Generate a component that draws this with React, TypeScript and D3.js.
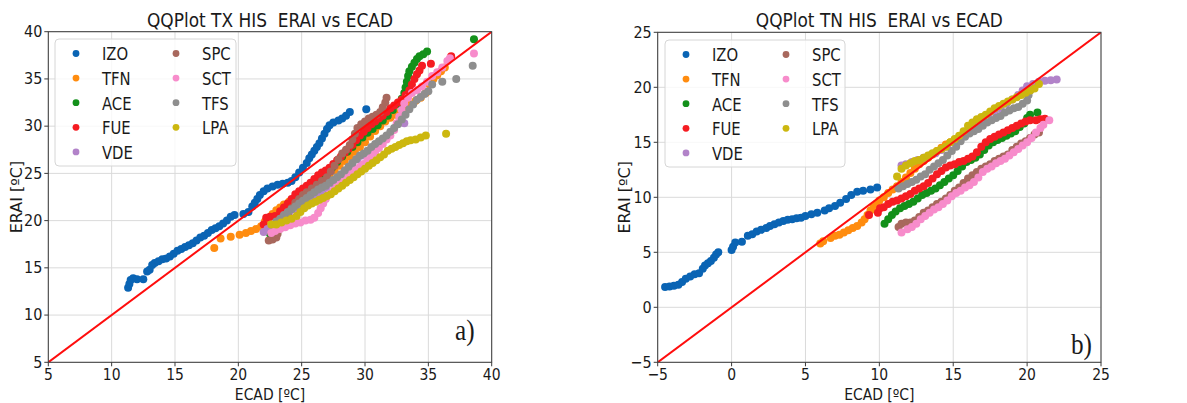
import * as d3 from 'd3'

type Pt = [number, number]

const STATIONS = ['IZO', 'TFN', 'ACE', 'FUE', 'VDE', 'SPC', 'SCT', 'TFS', 'LPA']
const COLORS = ['#0a64b4', '#ff8c0f', '#13901a', '#f51c22', '#b283c9', '#a8685d', '#f78ccb', '#8e8e8e', '#ccb70f']

// ---- TX panel (a): ECAD quantile vs ERAI quantile, ºC
const txIZO: Pt[] = [[11.3,12.9],[11.4,13.3],[11.5,13.7],[11.7,13.9],[12.0,13.8],[12.5,13.8],[12.8,14.6],[13.0,14.8],[13.2,15.3],[13.4,15.5],[13.7,15.7],[14.0,15.9],[14.3,16.0],[14.6,16.2],[14.9,16.5],[15.2,16.8],[15.5,17.0],[15.8,17.2],[16.1,17.4],[16.4,17.6],[16.7,17.9],[17.0,18.2],[17.3,18.4],[17.6,18.7],[17.9,19.0],[18.2,19.2],[18.5,19.4],[18.8,19.7],[19.1,20.0],[19.4,20.4],[19.7,20.6],[20.4,20.7],[20.8,20.9],[21.1,21.5],[21.3,21.9],[21.5,22.3],[21.7,22.7],[22.0,23.1],[22.3,23.4],[22.7,23.6],[23.1,23.8],[23.5,23.9],[23.9,24.0],[24.2,24.2],[24.5,24.6],[24.8,25.1],[25.1,25.6],[25.4,26.1],[25.6,26.6],[25.8,27.0],[26.0,27.4],[26.2,27.8],[26.4,28.2],[26.6,28.7],[26.8,29.2],[27.0,29.7],[27.2,30.1],[27.5,30.4],[27.9,30.6],[28.2,30.8],[28.5,31.1],[28.8,31.5],[30.1,31.8]]
const txTFN: Pt[] = [[18.1,17.1],[18.6,18.1],[19.4,18.3],[20.1,18.5],[20.6,18.7],[21.0,18.9],[21.4,19.1],[21.8,19.4],[22.1,19.9],[22.4,20.3],[22.7,20.7],[23.0,21.1],[23.3,21.4],[23.6,21.7],[24.0,22.0],[24.4,22.3],[24.8,22.7],[25.2,23.0],[25.6,23.3],[26.0,23.6],[26.4,24.0],[26.8,24.4],[27.2,24.8],[27.6,25.3],[28.0,25.8],[28.4,26.3],[28.8,26.8],[29.2,27.3],[29.6,27.8],[30.0,28.3],[30.4,28.9],[30.8,29.5],[31.2,30.0],[31.6,30.5],[32.0,30.9],[32.4,31.2],[32.8,31.5],[33.2,31.9],[33.6,32.3],[34.0,32.7],[34.4,33.0],[34.8,33.5],[35.1,34.4],[35.4,35.0],[35.7,35.4],[36.0,35.8],[36.3,36.2]]
const txACE: Pt[] = [[22.5,18.6],[22.7,19.0],[23.0,19.6],[23.4,20.2],[23.8,20.7],[24.2,21.2],[24.6,21.7],[25.0,22.2],[25.4,22.8],[25.8,23.3],[26.2,23.9],[26.6,24.4],[27.0,25.0],[27.4,25.6],[27.8,26.2],[28.2,26.8],[28.6,27.3],[29.0,27.8],[29.4,28.3],[29.8,28.8],[30.2,29.3],[30.6,29.7],[31.0,30.1],[31.4,30.6],[31.8,31.1],[32.2,31.7],[32.6,32.3],[32.9,32.9],[33.1,33.5],[33.2,34.1],[33.3,34.7],[33.4,35.3],[33.5,35.8],[33.7,36.3],[33.9,36.7],[34.1,37.1],[34.3,37.4],[34.6,37.6],[34.9,37.9],[38.6,39.2]]
const txFUE: Pt[] = [[22.0,19.6],[22.2,20.3],[22.5,20.4],[22.9,20.5],[23.3,21.0],[23.6,21.4],[23.9,21.8],[24.2,22.3],[24.5,22.8],[24.8,23.1],[25.1,23.4],[25.4,23.7],[25.7,24.0],[26.0,24.4],[26.3,24.8],[26.6,25.1],[26.9,25.3],[27.2,25.6],[27.5,26.0],[27.8,26.4],[28.1,26.8],[28.4,27.2],[28.7,27.6],[29.0,28.0],[29.3,28.5],[29.6,29.0],[29.9,29.4],[30.2,29.8],[30.5,30.2],[30.8,30.5],[31.1,30.8],[31.4,31.1],[31.7,31.5],[32.0,31.9],[32.3,32.2],[32.6,32.5],[32.9,32.8],[33.2,33.3],[33.5,33.8],[33.7,34.4],[33.9,35.0],[34.1,35.5],[34.3,35.9],[34.5,36.4],[35.2,36.6],[36.8,37.4]]
const txVDE: Pt[] = [[22.0,18.8],[22.3,19.1],[22.6,19.4],[23.0,19.8],[23.5,20.3],[24.0,20.8],[24.5,21.2],[25.0,21.6],[25.5,22.0],[26.0,22.4],[26.5,22.8],[27.0,23.3],[27.5,23.9],[28.0,24.6],[28.5,25.3],[29.0,26.0],[29.4,26.5],[29.8,26.9],[30.2,27.3],[30.6,27.7],[31.0,28.1],[31.3,28.4],[33.1,30.3]]
const txSPC: Pt[] = [[22.4,17.9],[22.7,18.0],[23.0,18.2],[23.1,18.6],[23.3,19.2],[23.6,19.9],[23.9,20.6],[24.2,21.3],[24.5,21.9],[24.8,22.3],[25.1,22.7],[25.4,23.0],[25.8,23.4],[26.2,23.8],[26.6,24.2],[27.0,24.6],[27.3,25.2],[27.6,25.8],[27.9,26.5],[28.2,27.1],[28.5,27.5],[28.8,28.0],[29.0,28.6],[29.2,29.2],[29.4,29.8],[29.7,30.2],[30.0,30.5],[30.3,30.8],[30.6,31.0],[30.9,31.2],[31.2,31.5],[31.4,32.0],[31.6,32.5],[31.7,33.0]]
const txSCT: Pt[] = [[22.6,18.7],[22.9,18.9],[23.3,19.1],[23.7,19.3],[24.1,19.5],[24.5,19.7],[24.9,19.8],[25.3,20.0],[25.7,20.1],[26.0,20.3],[26.3,20.8],[26.5,21.3],[26.7,21.8],[26.9,22.3],[27.2,22.8],[27.5,23.2],[27.8,23.6],[28.1,24.0],[28.4,24.4],[28.7,24.8],[29.0,25.1],[29.3,25.4],[29.6,25.7],[29.9,26.0],[30.2,26.4],[30.5,26.8],[30.8,27.2],[31.1,27.7],[31.4,28.1],[31.7,28.6],[32.0,29.0],[32.3,29.6],[32.5,30.3],[32.7,31.0],[32.9,31.7],[33.1,32.4],[33.4,33.0],[33.7,33.5],[34.1,33.8],[34.5,34.2],[34.9,34.7],[35.3,35.3],[35.7,35.7],[36.1,36.2],[36.5,36.9],[36.7,37.2],[38.6,37.7]]
const txTFS: Pt[] = [[23.0,19.9],[23.3,20.2],[23.6,20.6],[23.9,20.9],[24.2,21.2],[24.5,21.5],[24.8,21.8],[25.1,22.1],[25.4,22.4],[25.7,22.7],[26.0,23.0],[26.3,23.3],[26.6,23.5],[26.9,23.7],[27.2,24.0],[27.5,24.3],[27.8,24.6],[28.1,24.9],[28.4,25.3],[28.7,25.7],[29.0,26.1],[29.3,26.5],[29.6,26.9],[29.9,27.1],[30.2,27.4],[30.5,27.8],[30.8,28.1],[31.1,28.4],[31.4,28.7],[31.7,29.0],[32.0,29.4],[32.3,29.8],[32.6,30.2],[32.9,30.7],[33.2,31.2],[33.5,31.8],[33.8,32.3],[34.1,32.8],[34.4,33.1],[34.7,33.4],[35.0,33.7],[35.3,34.4],[36.1,34.7],[37.2,35.0],[38.5,36.4]]
const txLPA: Pt[] = [[22.6,19.6],[23.0,19.6],[23.4,19.8],[23.8,20.0],[24.2,20.2],[24.6,20.5],[24.9,20.9],[25.2,21.3],[25.5,21.6],[25.8,21.8],[26.1,22.0],[26.4,22.2],[26.7,22.4],[27.0,22.6],[27.3,22.8],[27.6,23.1],[27.9,23.4],[28.2,23.7],[28.5,24.0],[28.8,24.3],[29.1,24.6],[29.4,24.9],[29.7,25.2],[30.0,25.5],[30.3,25.8],[30.6,26.1],[30.9,26.4],[31.2,26.7],[31.5,27.0],[31.8,27.4],[32.1,27.6],[32.4,27.8],[32.7,28.0],[33.0,28.2],[33.3,28.4],[33.6,28.5],[34.0,28.6],[34.4,28.8],[34.8,29.0],[36.4,29.2]]

// ---- TN panel (b)
const tnIZO: Pt[] = [[-4.5,1.85],[-4.2,1.9],[-3.9,1.95],[-3.6,2.05],[-3.35,2.3],[-3.1,2.6],[-2.8,2.8],[-2.5,3.0],[-2.2,3.1],[-1.95,3.5],[-1.8,3.8],[-1.6,4.0],[-1.4,4.2],[-1.2,4.5],[-1.05,4.8],[-0.9,5.0],[0.0,5.2],[0.1,5.5],[0.25,5.9],[0.7,5.95],[1.1,6.5],[1.4,6.65],[1.7,6.9],[2.0,7.05],[2.35,7.2],[2.6,7.4],[2.9,7.55],[3.2,7.7],[3.5,7.85],[3.8,7.95],[4.1,8.0],[4.4,8.1],[4.7,8.15],[5.0,8.3],[5.4,8.45],[5.8,8.6],[6.3,8.8],[6.6,9.0],[7.0,9.2],[7.35,9.5],[7.75,9.85],[8.1,10.2],[8.5,10.5],[8.9,10.6],[9.4,10.7],[9.85,10.9]]
const tnTFN: Pt[] = [[6.0,5.8],[6.2,6.0],[6.7,6.3],[7.0,6.5],[7.3,6.6],[7.6,6.8],[7.9,7.0],[8.2,7.2],[8.5,7.4],[8.8,7.7],[9.0,8.0],[9.2,8.4],[9.4,8.8],[9.6,9.1],[9.8,9.4],[10.0,9.7],[10.3,10.0],[10.6,10.4],[10.9,10.7],[11.2,11.0],[11.5,11.4],[11.8,11.8],[12.1,12.2],[12.4,12.6],[12.7,13.0],[13.0,13.3],[13.3,13.6],[13.6,13.9],[13.9,14.2],[14.2,14.5],[14.5,14.8],[14.8,15.0]]
const tnACE: Pt[] = [[10.35,7.6],[10.6,8.0],[10.85,8.4],[11.1,8.7],[11.4,9.0],[11.7,9.2],[12.0,9.4],[12.3,9.6],[12.6,9.9],[12.9,10.2],[13.2,10.4],[13.5,10.6],[13.8,10.8],[14.1,11.1],[14.4,11.4],[14.7,11.7],[15.0,12.0],[15.3,12.4],[15.6,12.8],[15.9,13.2],[16.2,13.4],[16.5,13.6],[16.8,13.9],[17.1,14.3],[17.4,14.7],[17.7,15.0],[18.0,15.2],[18.3,15.4],[18.6,15.6],[18.9,15.8],[19.2,16.0],[19.5,16.4],[19.8,16.7],[20.0,17.2],[20.2,17.5],[20.7,17.7]]
const tnFUE: Pt[] = [[9.3,8.4],[9.9,8.6],[10.05,9.0],[10.3,9.1],[10.6,9.4],[10.9,9.6],[11.2,9.7],[11.5,9.9],[11.8,10.1],[12.1,10.3],[12.4,10.6],[12.7,10.8],[13.0,11.0],[13.3,11.3],[13.6,11.7],[13.9,12.1],[14.2,12.4],[14.5,12.7],[14.8,12.9],[15.1,13.0],[15.4,13.2],[15.7,13.3],[16.0,13.5],[16.3,13.7],[16.6,14.1],[16.9,14.6],[17.2,15.0],[17.5,15.3],[17.8,15.5],[18.1,15.7],[18.4,15.9],[18.7,16.1],[19.0,16.3],[19.3,16.5],[19.6,16.7],[19.9,16.9],[20.2,17.0],[20.6,17.0],[20.9,17.1],[21.2,17.15]]
const tnVDE: Pt[] = [[11.5,12.9],[11.8,13.0],[12.2,13.2],[12.6,13.4],[13.0,13.6],[13.4,13.8],[13.8,14.0],[14.2,14.3],[14.6,14.6],[15.0,15.0],[15.4,15.4],[15.8,15.9],[16.2,16.3],[16.6,16.7],[17.0,17.1],[17.4,17.5],[17.8,17.8],[18.2,18.1],[18.6,18.5],[19.0,18.9],[19.4,19.3],[19.7,19.7],[20.0,20.1],[20.4,20.3],[20.8,20.5],[21.2,20.6],[21.6,20.65],[22.0,20.7]]
const tnSPC: Pt[] = [[11.3,7.3],[11.5,7.6],[11.8,7.7],[12.1,7.7],[12.4,7.9],[12.7,8.2],[13.0,8.6],[13.3,8.8],[13.6,9.1],[13.9,9.4],[14.2,9.6],[14.5,9.9],[14.8,10.2],[15.1,10.6],[15.4,10.9],[15.7,11.3],[16.0,11.7],[16.3,12.0],[16.6,12.3],[16.9,12.6],[17.2,12.8],[17.5,13.0],[17.8,13.3],[18.1,13.5],[18.4,13.7],[18.7,13.9],[19.0,14.3],[19.3,14.6],[19.6,14.9],[19.9,15.1],[20.2,15.4],[20.5,15.7],[20.8,15.9]]
const tnSCT: Pt[] = [[11.5,6.8],[11.9,7.1],[12.2,7.3],[12.5,7.6],[12.8,8.0],[13.1,8.3],[13.4,8.6],[13.7,8.9],[14.0,9.1],[14.3,9.4],[14.6,9.7],[14.9,10.1],[15.2,10.4],[15.5,10.6],[15.8,10.9],[16.1,11.1],[16.4,11.4],[16.7,11.8],[17.0,12.3],[17.3,12.6],[17.6,12.8],[17.9,13.1],[18.2,13.3],[18.5,13.5],[18.8,13.8],[19.1,14.1],[19.4,14.4],[19.7,14.7],[20.0,15.0],[20.3,15.4],[20.6,15.9],[20.9,16.3],[21.1,16.6],[21.5,17.0]]
const tnTFS: Pt[] = [[11.3,10.8],[11.6,11.0],[11.9,11.2],[12.2,11.4],[12.5,11.6],[12.8,11.9],[13.1,12.1],[13.4,12.5],[13.7,12.8],[14.0,13.1],[14.3,13.4],[14.6,13.8],[14.9,14.2],[15.2,14.6],[15.5,15.1],[15.8,15.5],[16.1,15.8],[16.4,16.0],[16.7,16.2],[17.0,16.5],[17.3,16.8],[17.6,17.0],[17.9,17.2],[18.2,17.4],[18.5,17.7],[18.8,17.9],[19.1,18.1],[19.4,18.2],[19.7,18.5],[20.0,18.8],[20.1,19.3],[20.2,19.7]]
const tnLPA: Pt[] = [[11.2,11.9],[11.5,12.6],[11.8,12.9],[12.1,13.1],[12.4,13.3],[12.7,13.4],[13.0,13.6],[13.3,13.8],[13.6,14.0],[13.9,14.2],[14.2,14.4],[14.5,14.6],[14.8,15.0],[15.1,15.3],[15.4,15.6],[15.7,16.0],[16.0,16.5],[16.3,16.8],[16.6,17.1],[16.9,17.3],[17.2,17.5],[17.5,17.8],[17.8,18.1],[18.1,18.3],[18.4,18.5],[18.7,18.7],[19.0,18.9],[19.3,19.1],[19.6,19.3],[19.9,19.5],[20.2,19.7],[20.5,19.9],[20.8,20.3]]

const TX_SERIES = [txIZO, txTFN, txACE, txFUE, txVDE, txSPC, txSCT, txTFS, txLPA]
const TN_SERIES = [tnIZO, tnTFN, tnACE, tnFUE, tnVDE, tnSPC, tnSCT, tnTFS, tnLPA]
const TX_TICKS = [5, 10, 15, 20, 25, 30, 35, 40]
const TN_TICKS = [-5, 0, 5, 10, 15, 20, 25]

const WIDTH = 1187
const HEIGHT = 403
const SX = 0.87 // the figure is squeezed horizontally, text included
const FONT = 'DejaVu Sans, sans-serif'

type TxtProps = {
  x: number
  y: number
  size: number
  anchor?: 'start' | 'middle' | 'end'
  baseline?: string
  family?: string
  children: React.ReactNode
}

function Txt({ x, y, size, anchor = 'start', baseline, family = FONT, children }: TxtProps) {
  return (
    <text
      transform={`translate(${x},${y}) scale(${SX},1)`}
      fontSize={size}
      fontFamily={family}
      textAnchor={anchor}
      dominantBaseline={baseline}
      fill="#1a1a1a"
      style={{ whiteSpace: 'pre' }}
    >
      {children}
    </text>
  )
}

type PanelProps = {
  id: string
  title: string
  series: Pt[][]
  ticks: number[]
  box: { l: number; r: number; t: number; b: number }
  legend: { x: number; y: number; w: number; h: number }
  tag: string
  tagPos: [number, number]
  yLabelX: number
}

function Panel({ id, title, series, ticks, box, legend, tag, tagPos, yLabelX }: PanelProps) {
  const domain = d3.extent(ticks) as [number, number]
  const x = d3.scaleLinear().domain(domain).range([box.l, box.r])
  const y = d3.scaleLinear().domain(domain).range([box.b, box.t])
  const fmt = d3.format('d')
  const cx = (box.l + box.r) / 2
  const cy = (box.t + box.b) / 2
  const rowH = 24.6

  return (
    <g>
      <defs>
        <clipPath id={`clip-${id}`}>
          <rect x={box.l} y={box.t} width={box.r - box.l} height={box.b - box.t} />
        </clipPath>
      </defs>

      {/* grid */}
      {ticks.map((t) => (
        <g key={`g${t}`} stroke="#dadada" strokeWidth={1}>
          <line x1={x(t)} x2={x(t)} y1={box.t} y2={box.b} />
          <line x1={box.l} x2={box.r} y1={y(t)} y2={y(t)} />
        </g>
      ))}

      {/* scatter */}
      <g clipPath={`url(#clip-${id})`}>
        {series.map((pts, si) =>
          pts.map((p, i) => (
            <circle key={`${si}-${i}`} cx={x(p[0])} cy={y(p[1])} r={4} fill={COLORS[si]} />
          ))
        )}
        <line
          x1={x(domain[0])}
          y1={y(domain[0])}
          x2={x(domain[1])}
          y2={y(domain[1])}
          stroke="#ff0d0d"
          strokeWidth={2}
        />
      </g>

      {/* frame + ticks */}
      <rect
        x={box.l}
        y={box.t}
        width={box.r - box.l}
        height={box.b - box.t}
        fill="none"
        stroke="#3a3a3a"
        strokeWidth={1}
      />
      {ticks.map((t) => (
        <g key={`t${t}`}>
          <line x1={x(t)} x2={x(t)} y1={box.b} y2={box.b + 4} stroke="#3a3a3a" />
          <line x1={box.l - 4} x2={box.l} y1={y(t)} y2={y(t)} stroke="#3a3a3a" />
          <Txt x={x(t)} y={box.b + 17.5} size={16} anchor="middle">
            {fmt(t)}
          </Txt>
          <Txt x={box.l - 6} y={y(t)} size={16.5} anchor="end" baseline="central">
            {fmt(t)}
          </Txt>
        </g>
      ))}

      {/* legend */}
      <rect
        x={legend.x}
        y={legend.y}
        width={legend.w}
        height={legend.h}
        rx={4}
        fill="#fff"
        fillOpacity={0.8}
        stroke="#d6d6d6"
      />
      {STATIONS.map((name, i) => {
        const col = i < 5 ? 0 : 1
        const row = i < 5 ? i : i - 5
        const mx = legend.x + 21 + col * 100
        const my = legend.y + 14.5 + row * rowH
        return (
          <g key={name}>
            <circle cx={mx} cy={my} r={3.4} fill={COLORS[i]} />
            <Txt x={mx + 26} y={my + 1} size={17} baseline="central">
              {name}
            </Txt>
          </g>
        )
      })}

      {/* labels */}
      <Txt x={cx} y={27} size={19.5} anchor="middle">
        {title}
      </Txt>
      <Txt x={cx} y={400} size={16} anchor="middle">
        ECAD [ºC]
      </Txt>
      <text
        transform={`translate(${yLabelX},${cy}) rotate(-90)`}
        fontSize={16}
        fontFamily={FONT}
        textAnchor="middle"
        dominantBaseline="central"
        fill="#1a1a1a"
      >
        ERAI [ºC]
      </text>
      <Txt x={tagPos[0]} y={tagPos[1]} size={29} family="Liberation Serif, Times New Roman, serif">
        {tag}
      </Txt>
    </g>
  )
}

export default function App() {
  return (
    <svg
      width={WIDTH}
      height={HEIGHT}
      viewBox={`0 0 ${WIDTH} ${HEIGHT}`}
      style={{ position: 'absolute', left: 0, top: 0, background: '#fff' }}
    >
      <rect width={WIDTH} height={HEIGHT} fill="#fff" />
      <Panel
        id="tx"
        title="QQPlot TX HIS  ERAI vs ECAD"
        series={TX_SERIES}
        ticks={TX_TICKS}
        box={{ l: 48.3, r: 491.7, t: 31.7, b: 362.3 }}
        legend={{ x: 55, y: 39, w: 181, h: 127 }}
        tag="a)"
        tagPos={[455, 340]}
        yLabelX={16}
      />
      <Panel
        id="tn"
        title="QQPlot TN HIS  ERAI vs ECAD"
        series={TN_SERIES}
        ticks={TN_TICKS}
        box={{ l: 657.7, r: 1101, t: 32.3, b: 362.3 }}
        legend={{ x: 665, y: 40, w: 180, h: 127 }}
        tag="b)"
        tagPos={[1071, 354]}
        yLabelX={624}
      />
    </svg>
  )
}
